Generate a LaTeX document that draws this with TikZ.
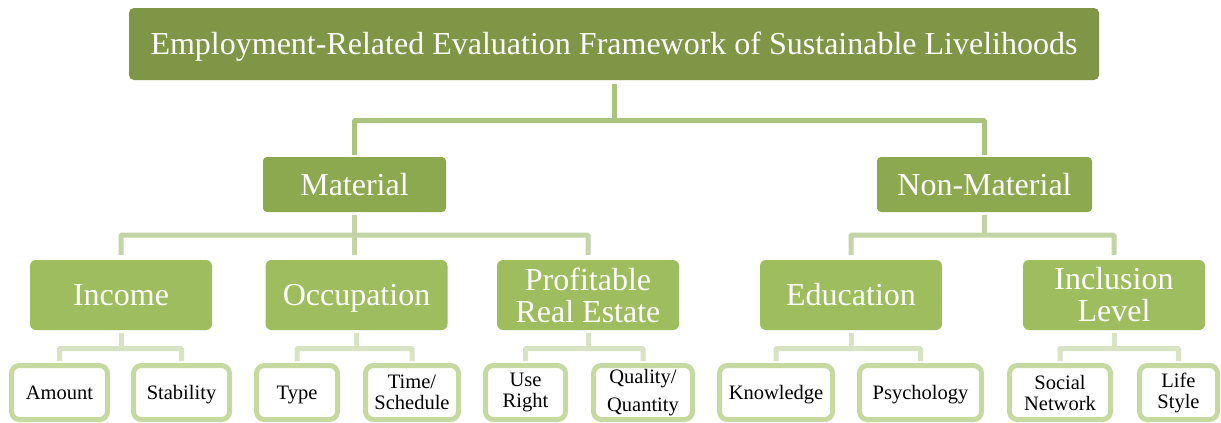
\documentclass[tikz,border=0pt]{standalone}
\usepackage{fontspec}
\setmainfont{Liberation Serif}
\usetikzlibrary{calc}
\definecolor{cTop}{HTML}{7E9646}
\definecolor{cLone}{HTML}{8DA94F}
\definecolor{cLtwo}{HTML}{9EBD5E}
\definecolor{cCzero}{HTML}{AAC47E}
\definecolor{cCone}{HTML}{C3D5A6}
\definecolor{cCtwo}{HTML}{D7E3C3}
\definecolor{cLeaf}{HTML}{C6D9A1}
\begin{document}
\begin{tikzpicture}[x=1pt,y=-1pt,
  box/.style={rectangle, inner sep=0pt, text=white, align=center,
    font=\fontsize{32}{32}\selectfont},
  bigone/.style={text height=21pt, text depth=0pt},
  smallone/.style={text height=13.5pt, text depth=0pt},
  topbox/.style={box, fill=cTop, rounded corners=5pt, minimum width=970pt, minimum height=72pt},
  lvone/.style={box, fill=cLone, rounded corners=4pt, minimum height=55pt},
  lvtwo/.style={box, fill=cLtwo, rounded corners=6pt, minimum width=182pt, minimum height=70pt},
  leaf/.style={rectangle, draw=cLeaf, line width=5pt, fill=white, rounded corners=8pt,
    minimum height=54pt, inner sep=0pt, align=center, text=black,
    font=\fontsize{20.5}{21}\selectfont},
  connzero/.style={draw=cCzero, line width=5pt, rounded corners=1pt},
  connone/.style={draw=cCone, line width=5pt, rounded corners=1pt},
  conntwo/.style={draw=cCtwo, line width=5pt, rounded corners=1pt}]
\useasboundingbox (0,0) rectangle (1221,423);
\fill[white] (0,0) rectangle (1221,423);
% level 0
\node[topbox, bigone] (top) at (614,44) {Employment-Related Evaluation Framework of Sustainable Livelihoods};
% level 1
\node[lvone, bigone, minimum width=183pt] (mat) at (354.5,184.5) {Material};
\node[lvone, bigone, minimum width=215pt] (non) at (984.5,184.5) {Non-Material};
% level 2
\node[lvtwo, bigone] (inc) at (121,295) {Income};
\node[lvtwo, bigone] (occ) at (356.5,295) {Occupation};
\node[lvtwo] (pre) at (588,295) {Profitable\\Real Estate};
\node[lvtwo, bigone] (edu) at (851,295) {Education};
\node[lvtwo] (inl) at (1114,295) {Inclusion\\Level};
% level 3
\node[leaf, smallone, minimum width=96pt] (amo) at (59.5,392.5) {Amount};
\node[leaf, smallone, minimum width=96pt] (sta) at (181.5,392.5) {Stability};
\node[leaf, smallone, minimum width=81pt] (typ) at (297,392.5) {Type};
\node[leaf, minimum width=93pt] (tim) at (412,392.5) {Time/\\Schedule};
\node[leaf, minimum width=80pt] (use) at (525.5,392.5) {Use\\Right};
\node[leaf, minimum width=99pt] (qua) at (643,392.5) {Quality/\\[7pt]Quantity};
\node[leaf, smallone, minimum width=113pt] (kno) at (776,392.5) {Knowledge};
\node[leaf, smallone, minimum width=122pt] (psy) at (920.5,392.5) {Psychology};
\node[leaf, minimum width=101pt] (soc) at (1060,392.5) {Social\\Network};
\node[leaf, minimum width=78pt] (lif) at (1178.5,392.5) {Life\\Style};
% rails
\coordinate (rz) at (0,120.5);
\coordinate (ro) at (0,235);
\coordinate (rt) at (0,348.5);
% connectors level 0 -> 1
\draw[connzero] ($(top.south)+(0,4)$) -- (top.south |- rz);
\draw[connzero] ($(mat.north)+(0,-2)$) |- (top.south |- rz) -| ($(non.north)+(0,-2)$);
% connectors level 1 -> 2
\draw[connone] ($(mat.south)+(0,3)$) -- ($(mat.south |- occ.north)+(0,-5)$);
\draw[connone] ($(inc.north)+(0,-5)$) |- (mat.south |- ro) -| ($(pre.north)+(0,-5)$);
\draw[connone] ($(non.south)+(0,3)$) -- (non.south |- ro);
\draw[connone] ($(edu.north)+(0,-5)$) |- (non.south |- ro) -| ($(inl.north)+(0,-5)$);
% connectors level 2 -> 3
\foreach \p/\a/\b in {inc/amo/sta, occ/typ/tim, pre/use/qua, edu/kno/psy, inl/soc/lif}{
  \draw[conntwo] ($(\p.south)+(0,3)$) -- (\p.south |- rt);
  \draw[conntwo] ($(\a.north)+(0,-2)$) |- (\p.south |- rt) -| ($(\b.north)+(0,-2)$);
}
\end{tikzpicture}
\end{document}
